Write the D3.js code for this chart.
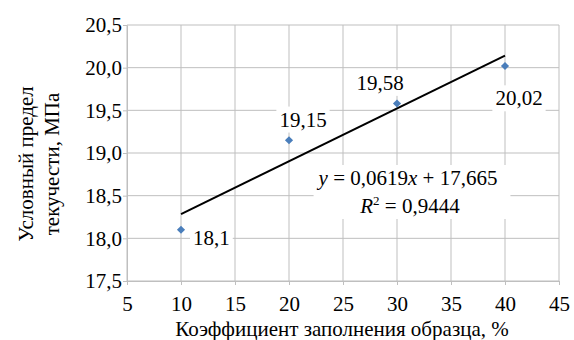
<!DOCTYPE html>
<html>
<head>
<meta charset="utf-8">
<script src="https://cdn.jsdelivr.net/npm/d3@7"></script>
</head>
<body style="margin:0">
<script>
// data
let fillPercent = [10, 20, 30, 40];
let yieldStress = [18.1, 19.15, 19.58, 20.02];
let pointLabels = ['18,1', '19,15', '19,58', '20,02'];
let xTicks = [5, 10, 15, 20, 25, 30, 35, 40, 45];
let yTicks = [17.5, 18.0, 18.5, 19.0, 19.5, 20.0, 20.5];
let trendSlope = 0.0619, trendIntercept = 17.665;

// label placement relative to its point (dx, dy, anchor)
let labelPlace = [[12, 8, 'start'], [14, -21, 'middle'], [-17, -21, 'middle'], [14, 32, 'middle']];

let margin = { top: 25, left: 127, right: 15, bottom: 59 },
  W = 574, H = 340,
  width = W - margin.left - margin.right,
  height = H - margin.top - margin.bottom;

let svg = d3.select('body').append('svg')
  .attr('width', W).attr('height', H)
  .attr('font-family', 'Liberation Serif')
  .attr('font-size', 21);

let g = svg.append('g')
  .attr('transform', 'translate(' + margin.left + ',' + margin.top + ')');

let x = d3.scaleLinear().domain([5, 45]).range([0, width]);
let y = d3.scaleLinear().domain([17.5, 20.5]).range([height, 0]);

const gridColor = '#bfbfbf';
const fmt = d => d3.format('.1f')(d).replace('.', ',');

// grid
g.append('g').selectAll('line').data(yTicks).join('line')
  .attr('x1', 0).attr('x2', width)
  .attr('y1', d => y(d)).attr('y2', d => y(d))
  .attr('stroke', gridColor);
g.append('g').selectAll('line').data(xTicks).join('line')
  .attr('y1', 0).attr('y2', height)
  .attr('x1', d => x(d)).attr('x2', d => x(d))
  .attr('stroke', gridColor);

// axes
let xAxis = g.append('g')
  .attr('transform', 'translate(0,' + height + ')')
  .call(d3.axisBottom(x).tickValues(xTicks).tickSize(4).tickPadding(11).tickSizeOuter(0).tickFormat(d => d));
let yAxis = g.append('g')
  .call(d3.axisLeft(y).tickValues(yTicks).tickSize(4).tickPadding(1).tickSizeOuter(0).tickFormat(fmt));
[xAxis, yAxis].forEach(a => {
  a.attr('font-family', 'Liberation Serif').attr('font-size', 21);
  a.select('.domain').attr('stroke', gridColor);
  a.selectAll('.tick line').attr('stroke', gridColor);
  a.selectAll('.tick text').attr('fill', '#000');
});

// trend line
g.append('line')
  .attr('x1', x(10)).attr('y1', y(trendSlope * 10 + trendIntercept))
  .attr('x2', x(40)).attr('y2', y(trendSlope * 40 + trendIntercept))
  .attr('stroke', '#000').attr('stroke-width', 2);

// points
let pts = fillPercent.map((d, i) => ({ x: d, y: yieldStress[i], label: pointLabels[i], place: labelPlace[i] }));
g.append('g').selectAll('path').data(pts).join('path')
  .attr('d', d3.symbol().type(d3.symbolDiamond2).size(42))
  .attr('transform', d => 'translate(' + x(d.x) + ',' + y(d.y) + ')')
  .attr('fill', '#4a7ebb');

// point labels with white boxes
let lab = g.append('g').selectAll('g').data(pts).join('g');
lab.append('rect').attr('fill', '#fff');
lab.append('text')
  .attr('x', d => x(d.x) + d.place[0])
  .attr('y', d => y(d.y) + d.place[1])
  .attr('dy', '0.35em')
  .attr('text-anchor', d => d.place[2])
  .text(d => d.label);
lab.each(function() {
  let b = d3.select(this).select('text').node().getBBox();
  d3.select(this).select('rect')
    .attr('x', b.x - 3).attr('y', b.y - 1).attr('width', b.width + 6).attr('height', b.height + 2);
});

// equation
let eq = g.append('g');
let eqRect = eq.append('rect').attr('fill', '#fff');
let cx = 408 - margin.left;
let t1 = eq.append('text').attr('x', cx).attr('y', 185 - margin.top)
  .attr('text-anchor', 'middle');
t1.append('tspan').attr('font-style', 'italic').text('y');
t1.append('tspan').text(' = 0,0619');
t1.append('tspan').attr('font-style', 'italic').text('x');
t1.append('tspan').text(' + 17,665');
let t2 = eq.append('text').attr('x', cx + 2).attr('y', 213 - margin.top)
  .attr('text-anchor', 'middle');
t2.append('tspan').attr('font-style', 'italic').text('R');
t2.append('tspan').attr('dy', -8).attr('font-size', 13).text('2');
t2.append('tspan').attr('dy', 8).text(' = 0,9444');
let eb = eq.node().getBBox();
eqRect.attr('x', eb.x - 3).attr('y', eb.y - 1).attr('width', eb.width + 16).attr('height', eb.height + 2);

// axis titles
svg.append('text')
  .attr('x', margin.left + width / 2 - 1).attr('y', 336)
  .attr('text-anchor', 'middle')
  .text('Коэффициент заполнения образца, %');

let yt = svg.append('text')
  .attr('transform', 'translate(33,164) rotate(-90)')
  .attr('text-anchor', 'middle');
yt.append('tspan').attr('x', 0).attr('y', 0).text('Условный предел');
yt.append('tspan').attr('x', 0).attr('y', 26).text('текучести, МПа');
</script>
</body>
</html>
